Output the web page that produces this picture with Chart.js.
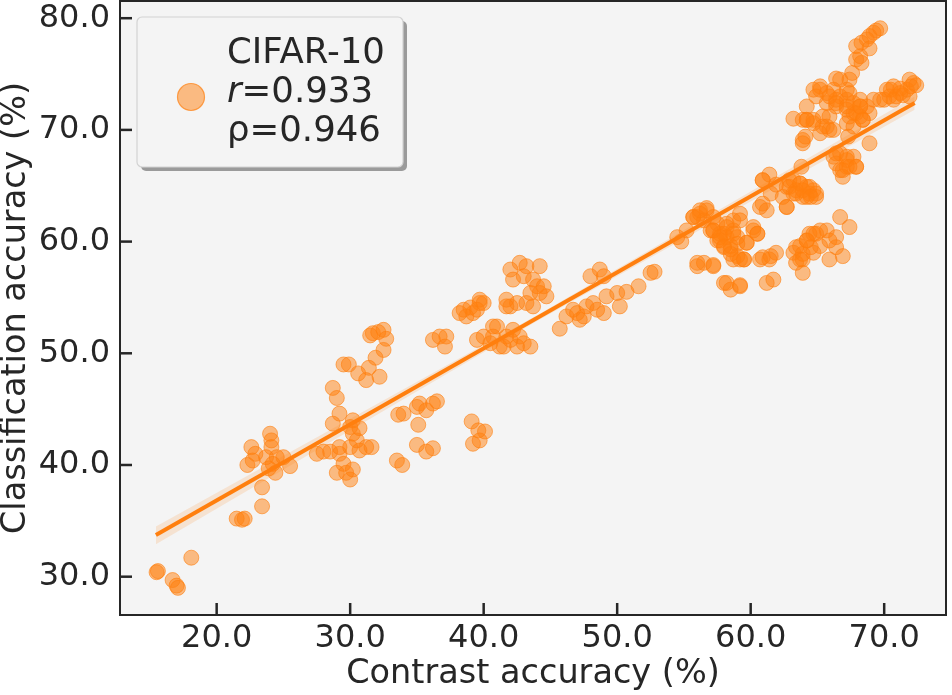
<!DOCTYPE html>
<html>
<head>
<meta charset="utf-8">
<script src="https://cdn.jsdelivr.net/npm/chart.js@4.4.1/dist/chart.umd.min.js"></script>
<style>
  html, body { margin: 0; padding: 0; background: #ffffff; }
  #wrap { width: 952px; height: 695px; }
</style>
</head>
<body>
<div id="wrap"><canvas id="scatterChart" width="952" height="695"></canvas></div>
<script>
// contrast accuracy (x) and classification accuracy (y), read cluster by cluster
const contrastAcc = [
  15.6, 15.5, 16.7, 17.0, 17.1, 18.1,
  21.5, 21.9, 22.1, 23.4, 23.4,
  22.6, 22.9, 22.7, 22.3, 24.0, 24.1, 24.1, 23.7, 24.5, 25.0, 25.5, 24.4, 23.9, 24.2,
  28.7, 29.0, 29.2, 28.7, 29.5, 29.9, 30.6, 31.2, 31.4, 32.2, 31.7, 32.5, 32.7, 32.5, 31.9, 31.5, 32.1,
  30.0, 30.2, 30.5, 30.0, 30.7, 31.2, 31.6, 29.2, 29.5, 29.0, 29.7, 30.0, 30.2, 27.5, 28.0, 28.5, 29.2, 30.2, 30.7,
  33.5, 33.9, 33.6, 34.0, 35.0, 35.2, 35.7, 36.2, 36.5, 35.1, 35.0, 35.7, 36.2,
  39.1, 39.6, 40.1, 39.2, 39.7,
  36.2, 36.7, 37.1, 37.2,
  38.2, 39.0, 39.7, 38.5, 39.2, 39.7, 40.0, 39.5, 38.7,
  39.5, 40.0, 40.7, 41.0, 40.5, 41.2, 41.7, 42.2, 42.7, 43.0, 43.5, 42.5, 42.0, 40.7, 41.5,
  42.0, 42.7, 43.2, 44.2, 42.2, 43.0, 43.7, 44.0, 44.5, 44.7, 44.2, 43.5, 43.2, 43.7, 41.7, 42.0, 42.5, 41.7,
  45.7, 46.2, 46.7, 47.2, 47.7, 48.2, 48.5, 49.0, 49.2, 50.0, 50.2, 50.7, 48.0, 48.7, 49.0, 47.0, 47.5,
  51.6, 52.5, 52.8,
  54.5, 54.8, 55.7, 56.2, 56.7, 56.5, 57.2, 56.0, 56.5, 57.2, 58.0, 58.5, 59.2,
  57.2, 57.7, 58.2, 58.7, 59.2, 59.0, 58.0, 58.5, 58.7, 59.5, 59.7, 60.2, 60.5, 57.5, 58.2,
  60.7, 61.5, 61.7, 61.2,
  69.4, 69.2, 68.9, 68.7, 69.7, 67.9, 68.3, 68.9, 68.2, 67.9, 68.3, 67.6, 67.4, 66.7, 66.4,
  70.2, 70.7, 71.2, 71.7, 72.2, 71.9, 72.4, 70.9, 71.4, 71.9, 70.4, 69.7, 69.2,
  64.7, 65.2, 65.7, 66.2, 66.7, 67.2, 67.7, 68.2, 68.7, 68.9, 68.2, 67.7, 67.2, 66.4, 65.7, 64.9, 64.2, 63.2,
  63.9, 64.7, 65.4, 65.9, 65.2, 64.2, 67.2, 67.7, 68.4, 68.9, 67.3, 64.1, 63.9, 65.9, 66.4, 67.4, 68.2,
  66.2, 66.7, 67.2, 67.7, 66.9, 67.9, 66.4, 67.2,
  60.9, 61.4, 61.9, 62.7, 63.2, 63.7, 64.2, 64.7, 64.4, 63.9, 63.2, 64.2, 64.9, 63.8, 60.9, 61.2, 62.7,
  55.2, 56.0, 56.7, 57.5, 58.0, 58.7, 59.2, 59.7, 60.2, 58.5, 57.7, 59.0, 59.5, 56.0, 57.2, 58.2, 59.2, 60.5, 57.0,
  63.2, 63.7, 64.2, 64.7, 65.2, 65.7, 66.4, 66.7, 67.4, 63.9, 63.4, 64.7, 63.9, 65.9, 66.9, 65.2, 64.4,
  65.2, 65.9, 66.4, 67.2, 67.9, 68.4, 65.4, 65.7, 66.2, 64.7, 64.2, 63.9, 67.2, 67.4, 68.2,
  70.5, 71.2, 72.0, 70.7, 70.0,
  66.4, 67.2, 66.7, 67.4, 66.9, 67.9,
  62.9, 63.7, 64.4, 63.4, 64.9,
  62.9, 63.4, 63.9, 64.5, 62.4, 61.5, 60.9, 60.7, 62.7,
  57.2, 57.7, 58.2, 58.7, 59.0, 58.0, 58.5, 59.2, 55.7, 56.2,
  63.4, 63.9, 64.5, 63.7, 64.2, 64.9, 65.9, 66.4,
  60.9, 61.4, 61.9
];
const classAcc = [
  30.5, 30.4, 29.7, 29.2, 29.0, 31.7,
  35.2, 35.1, 35.2, 38.0, 36.3,
  41.6, 41.0, 40.4, 40.0, 42.8, 42.2, 41.6, 40.7, 40.7, 40.7, 39.9, 39.3, 39.7, 40.1,
  46.9, 46.0, 44.6, 43.7, 49.0, 49.0, 48.2, 47.6, 48.7, 47.9, 51.8, 52.1, 51.3, 50.3, 49.6, 51.6, 51.9,
  43.4, 42.8, 42.2, 41.6, 41.3, 41.6, 41.6, 41.0, 40.1, 39.3, 39.3, 38.7, 39.6, 41.0, 41.2, 41.2, 41.6, 44.0, 43.3,
  40.4, 40.0, 44.5, 44.6, 45.2, 45.5, 44.9, 45.5, 45.7, 43.6, 41.8, 41.2, 41.5,
  43.9, 43.1, 43.0, 41.9, 42.2,
  51.2, 51.5, 50.6, 51.5,
  53.6, 54.1, 54.5, 53.9, 53.6, 54.8, 54.5, 53.9, 53.3,
  51.2, 51.5, 52.4, 52.4, 50.9, 50.6, 51.5, 52.1, 51.5, 50.9, 50.6, 50.6, 51.2, 51.5, 50.6,
  57.5, 58.1, 57.8, 57.8, 56.6, 56.9, 56.6, 56.0, 56.0, 55.1, 55.4, 55.4, 54.5, 54.2, 54.8, 54.2, 54.5, 54.2,
  52.2, 53.3, 53.9, 53.0, 54.2, 54.5, 53.9, 53.6, 55.1, 55.4, 54.2, 55.5, 56.9, 57.5, 56.9, 53.6, 53.3,
  56.0, 57.2, 57.3,
  60.4, 60.0, 62.2, 62.5, 63.0, 61.9, 62.2, 57.8, 58.1, 57.8, 56.3, 55.7, 56.0,
  61.0, 60.7, 61.6, 61.0, 61.9, 60.4, 59.6, 59.3, 58.4, 58.4, 59.9, 61.3, 60.7, 60.1, 60.4,
  58.4, 58.7, 56.6, 56.3,
  78.9, 78.7, 78.4, 78.1, 79.1, 77.5, 77.8, 77.3, 76.6, 76.3, 76.0, 75.1, 74.5, 74.5, 74.6,
  73.6, 73.9, 73.7, 73.6, 74.2, 74.5, 74.0, 73.0, 73.1, 73.0, 73.0, 72.7, 72.7,
  73.6, 73.9, 73.3, 73.6, 73.0, 72.7, 72.4, 72.7, 72.1, 71.5, 71.2, 71.5, 71.8, 72.1, 72.4, 73.0, 72.1, 71.0,
  70.9, 70.6, 70.3, 70.0, 69.7, 70.9, 70.6, 70.3, 70.9, 68.8, 69.4, 69.4, 68.8, 71.2, 72.7, 73.3, 72.1,
  67.6, 67.9, 67.3, 67.6, 66.4, 66.7, 67.0, 66.7,
  65.5, 66.0, 65.1, 64.9, 65.5, 65.2, 64.9, 64.6, 64.3, 64.0, 64.3, 64.0, 64.0, 66.7, 63.4, 62.8, 63.1,
  61.0, 62.2, 62.8, 61.6, 60.7, 61.9, 62.5, 59.9, 61.0, 59.6, 60.1, 58.7, 58.4, 58.1, 57.9, 56.3, 56.1, 60.7, 61.0,
  59.0, 59.6, 60.1, 60.7, 61.0, 61.0, 60.4, 62.2, 61.3, 58.4, 58.1, 59.0, 57.2, 58.4, 58.7, 59.6, 60.7,
  73.6, 73.0, 72.4, 72.1, 71.5, 70.9, 71.2, 70.3, 70.0, 70.9, 70.9, 69.1, 73.6, 71.2, 72.1,
  73.6, 73.3, 73.9, 72.7, 72.7,
  67.9, 67.6, 66.4, 66.7, 65.8, 66.7,
  65.5, 65.2, 64.9, 64.6, 64.3,
  64.9, 64.3, 64.6, 64.0, 64.0, 64.3, 65.5, 63.1, 63.1,
  61.0, 60.4, 61.3, 60.7, 59.8, 59.5, 58.9, 58.4, 62.2, 62.8,
  59.5, 58.9, 59.5, 58.4, 60.1, 60.7, 60.1, 59.5,
  58.6, 58.4, 59.0
];

// fitted regression line and its confidence band
const fitX = [15.45, 44.0, 72.28];
const fitY = [33.73, 53.16, 72.40];
const bandLow = [32.9, 52.9, 71.8];
const bandHigh = [34.5, 53.4, 73.0];

const xTicks = [20, 30, 40, 50, 60, 70];
const yTicks = [30, 40, 50, 60, 70, 80];

const legendLines = ['CIFAR-10', 'r=0.933', 'ρ=0.946'];

const ORANGE = '#ff7f0e';
const INK = '#262626';
const FONT = "'DejaVu Sans', sans-serif";

const pts = contrastAcc.map((x, i) => ({ x: x, y: classAcc[i] }));
const toXY = (xs, ys) => xs.map((x, i) => ({ x: x, y: ys[i] }));

// plot background, frame, inward ticks and the legend box
const decorPlugin = {
  id: 'decor',
  beforeDraw(chart) {
    const { ctx, chartArea: a } = chart;
    ctx.save();
    ctx.fillStyle = '#f4f4f4';
    ctx.fillRect(a.left, a.top, a.right - a.left, a.bottom - a.top);
    ctx.restore();
  },
  afterDraw(chart) {
    const { ctx, chartArea: a, scales } = chart;
    ctx.save();
    ctx.strokeStyle = INK;
    ctx.lineWidth = 2.5;
    xTicks.forEach(v => {
      const px = scales.x.getPixelForValue(v);
      ctx.beginPath(); ctx.moveTo(px, a.bottom); ctx.lineTo(px, a.bottom - 12); ctx.stroke();
    });
    yTicks.forEach(v => {
      const py = scales.y.getPixelForValue(v);
      ctx.beginPath(); ctx.moveTo(a.left, py); ctx.lineTo(a.left + 12, py); ctx.stroke();
    });
    ctx.lineWidth = 2;
    ctx.strokeRect(a.left, a.top, a.right - a.left, a.bottom - a.top);

    // legend
    const bx = 137, by = 17, bw = 266, bh = 150;
    const rr = (x, y, w, h, r) => {
      ctx.beginPath();
      ctx.moveTo(x + r, y);
      ctx.arcTo(x + w, y, x + w, y + h, r);
      ctx.arcTo(x + w, y + h, x, y + h, r);
      ctx.arcTo(x, y + h, x, y, r);
      ctx.arcTo(x, y, x + w, y, r);
      ctx.closePath();
    };
    ctx.fillStyle = '#9a9a9a';
    rr(bx + 4, by + 4, bw, bh, 5); ctx.fill();
    ctx.fillStyle = '#f4f4f4';
    rr(bx, by, bw, bh, 5); ctx.fill();
    ctx.strokeStyle = '#d2d2d2';
    ctx.lineWidth = 1.2;
    ctx.stroke();

    ctx.beginPath();
    ctx.arc(191, 97, 13.5, 0, Math.PI * 2);
    ctx.fillStyle = 'rgba(255,127,14,0.5)';
    ctx.fill();
    ctx.strokeStyle = 'rgba(255,127,14,0.7)';
    ctx.lineWidth = 1.2;
    ctx.stroke();

    ctx.fillStyle = INK;
    ctx.textBaseline = 'alphabetic';
    ctx.textAlign = 'left';
    ctx.font = "35.5px " + FONT;
    ctx.fillText(legendLines[0], 227, 63);
    ctx.font = "italic 35.5px " + FONT;
    ctx.fillText(legendLines[1].charAt(0), 227, 102);
    const w = ctx.measureText(legendLines[1].charAt(0)).width;
    ctx.font = "35.5px " + FONT;
    ctx.fillText(legendLines[1].slice(1), 227 + w, 102);
    ctx.fillText(legendLines[2], 227, 141);
    ctx.restore();
  }
};

new Chart(document.getElementById('scatterChart'), {
  type: 'scatter',
  data: {
    datasets: [
      {
        type: 'line',
        data: toXY([fitX[0], fitX[2]], [fitY[0], fitY[2]]),
        borderColor: ORANGE,
        borderWidth: 4,
        pointRadius: 0,
        showLine: true,
        fill: false,
        order: 0
      },
      {
        type: 'line',
        data: toXY(fitX, bandLow),
        borderWidth: 0,
        borderColor: 'rgba(0,0,0,0)',
        pointRadius: 0,
        showLine: true,
        fill: false,
        order: 1
      },
      {
        type: 'line',
        data: toXY(fitX, bandHigh),
        borderWidth: 0,
        borderColor: 'rgba(0,0,0,0)',
        backgroundColor: 'rgba(255,127,14,0.15)',
        pointRadius: 0,
        showLine: true,
        fill: '-1',
        order: 1
      },
      {
        data: pts,
        backgroundColor: 'rgba(255,127,14,0.5)',
        borderColor: 'rgba(255,127,14,0.6)',
        borderWidth: 1,
        pointRadius: 7.5,
        pointHoverRadius: 7.5,
        order: 2
      }
    ]
  },
  options: {
    responsive: false,
    animation: false,
    events: [],
    layout: { autoPadding: false, padding: { top: 1, right: 6, left: 0, bottom: 0 } },
    plugins: { legend: { display: false }, tooltip: { enabled: false } },
    scales: {
      x: {
        type: 'linear',
        min: 12.76,
        max: 74.63,
        afterFit: s => { s.height = 80; s.paddingLeft = 0; s.paddingRight = 0; },
        afterBuildTicks: s => { s.ticks = xTicks.map(v => ({ value: v })); },
        grid: { display: false, drawTicks: false },
        border: { display: false },
        ticks: {
          padding: 4,
          color: INK,
          font: { family: FONT, size: 32 },
          callback: v => v.toFixed(1),
          maxRotation: 0
        },
        title: {
          display: true,
          text: 'Contrast accuracy (%)',
          color: INK,
          font: { family: FONT, size: 33.5 },
          padding: { top: 0, bottom: 1 }
        }
      },
      y: {
        type: 'linear',
        min: 26.57,
        max: 81.54,
        afterFit: s => { s.width = 120; s.paddingTop = 0; s.paddingBottom = 0; },
        afterBuildTicks: s => { s.ticks = yTicks.map(v => ({ value: v })); },
        grid: { display: false, drawTicks: false },
        border: { display: false },
        ticks: {
          padding: 10,
          color: INK,
          font: { family: FONT, size: 32 },
          callback: v => v.toFixed(1)
        },
        title: {
          display: true,
          text: 'Classification accuracy (%)',
          color: INK,
          font: { family: FONT, size: 33.5, lineHeight: 0.95 },
          padding: { top: 0, bottom: 0 }
        }
      }
    }
  },
  plugins: [decorPlugin]
});
</script>
</body>
</html>
